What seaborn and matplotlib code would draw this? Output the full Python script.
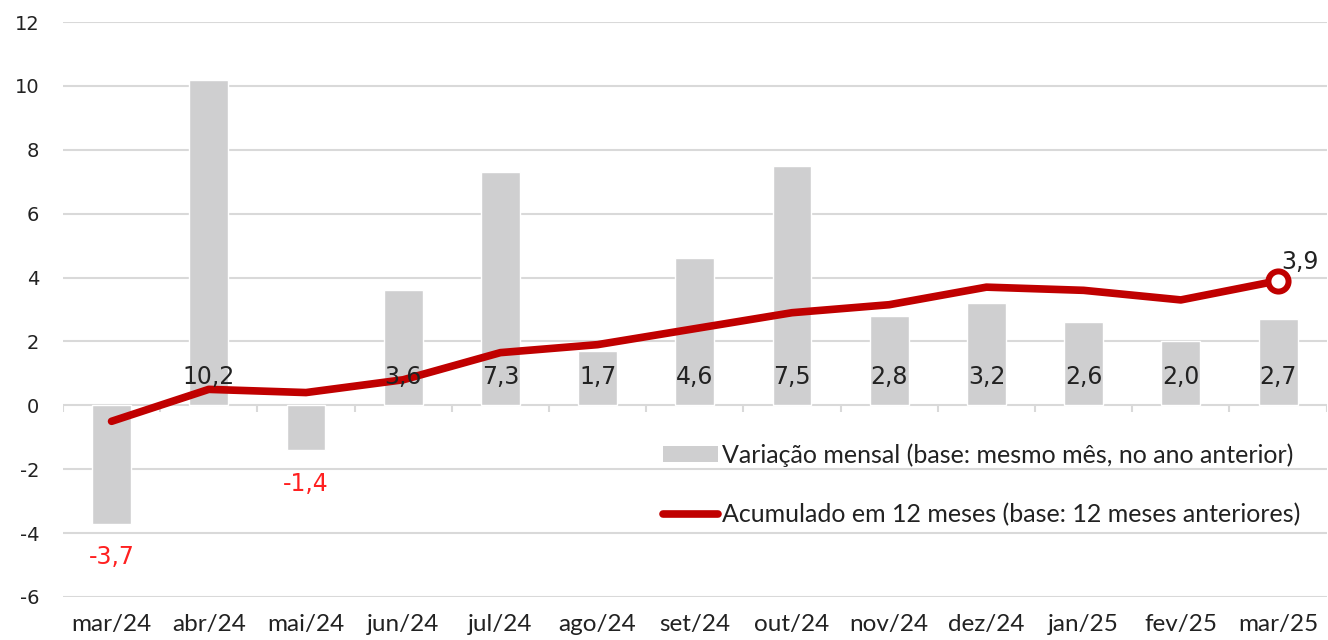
import numpy as np
import pandas as pd
import matplotlib
matplotlib.use("Agg")
import matplotlib.pyplot as plt
from matplotlib.patches import Patch
from matplotlib.lines import Line2D
import seaborn as sns

meses = ["mar/24", "abr/24", "mai/24", "jun/24", "jul/24", "ago/24", "set/24",
         "out/24", "nov/24", "dez/24", "jan/25", "fev/25", "mar/25"]
variacao_mensal = [-3.7, 10.2, -1.4, 3.6, 7.3, 1.7, 4.6, 7.5, 2.8, 3.2, 2.6, 2.0, 2.7]
acumulado_12m = [-0.5, 0.5, 0.4, 0.8, 1.65, 1.9, 2.4, 2.9, 3.15, 3.7, 3.6, 3.3, 3.9]
y_ticks = [-6, -4, -2, 0, 2, 4, 6, 8, 10, 12]

lbl_bar = "Variação mensal (base: mesmo mês, no ano anterior)"
lbl_line = "Acumulado em 12 meses (base: 12 meses anteriores)"

df = pd.DataFrame({"mes": meses, "mensal": variacao_mensal, "acum": acumulado_12m})
df["pos"] = np.arange(len(df))

sns.set_style("white")
plt.rcParams["font.family"] = ["DejaVu Sans"]

bar_color = "#cfcfd0"
red = "#c00000"
grid_color = "#d9d9d9"

fig = plt.figure(figsize=(13.28, 6.4), dpi=100)
ax = fig.add_axes([0.0474, 0.0672, 0.9516, 0.8984])

sns.barplot(data=df, x="mes", y="mensal", color=bar_color, width=0.4,
            saturation=1, ax=ax, zorder=2)
sns.lineplot(x=df["pos"], y=df["acum"], color=red, linewidth=5.5, ax=ax,
             zorder=3, solid_capstyle="round")
ax.plot(df["pos"].iloc[-1], df["acum"].iloc[-1], "o", markersize=14.5,
        markerfacecolor="white", markeredgecolor=red, markeredgewidth=4.3, zorder=4)

ax.set_ylim(-6, 12)
ax.set_xlim(-0.5, len(meses) - 0.5)
ax.set_yticks(y_ticks)
ax.set_yticklabels([str(v) for v in y_ticks])
for v in y_ticks:
    ax.axhline(v, color=grid_color, lw=1.5, zorder=1)
ax.vlines(np.arange(len(meses) + 1) - 0.5, -0.22, 0, color=grid_color, lw=1.5, zorder=1)

for s in ax.spines.values():
    s.set_visible(False)
ax.set_xlabel("")
ax.set_ylabel("")
ax.tick_params(axis="y", length=0, pad=17, labelsize=14, labelcolor="#222222")
ax.tick_params(axis="x", length=0, pad=12, labelsize=17.5, labelcolor="#222222")
for t in ax.get_xticklabels():
    t.set_fontfamily("Lato")

# rótulos das barras
for i, v in enumerate(variacao_mensal):
    if v < 0:
        ax.text(i, v - 1.05, f"{v:.1f}".replace(".", ","), ha="center", va="center",
                color="#ff2020", fontsize=17, zorder=5)
    else:
        ax.text(i, 0.9, f"{v:.1f}".replace(".", ","), ha="center", va="center",
                color="#222222", fontsize=17, zorder=5)

ax.text(len(meses) - 1 + 0.23, acumulado_12m[-1] + 0.6,
        f"{acumulado_12m[-1]:.1f}".replace(".", ","), ha="center", va="center",
        color="#222222", fontsize=17, zorder=5)

handles = [Patch(facecolor=bar_color, edgecolor="none"),
           Line2D([0], [0], color=red, lw=5.5, solid_capstyle="round")]
leg = fig.legend(handles, [lbl_bar, lbl_line], loc="center right",
                 bbox_to_anchor=(0.996, 0.242), frameon=False,
                 prop={"family": "Lato", "size": 18}, handlelength=2.2,
                 handleheight=0.6, handletextpad=0.15, labelspacing=1.45,
                 labelcolor="#222222")

fig.savefig("out.png", dpi=100, facecolor="white")
